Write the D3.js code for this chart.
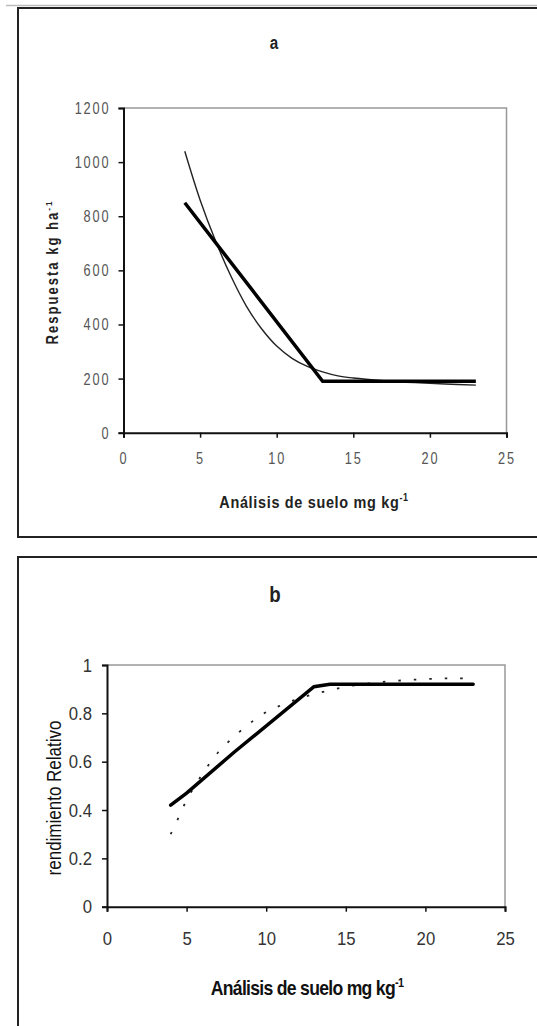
<!DOCTYPE html>
<html><head><meta charset="utf-8">
<script src="https://cdn.jsdelivr.net/npm/d3@7"></script>
<style>
html,body{margin:0;padding:0;background:#fff;}
svg{display:block;}
</style></head>
<body>
<svg id="c" width="537" height="1026"></svg>
<script>
// ---- Data: panel a ----
const aXTicks = [0, 5, 10, 15, 20, 25];
const aYTicks = [0, 200, 400, 600, 800, 1000, 1200];
const aLinearX = [4, 13, 23];
const aLinearY = [850, 190, 190];
const aCurveX = [4, 5, 6, 7, 8, 9, 10, 11, 12, 13, 14, 15, 17, 19, 21, 23];
const aCurveY = [1040, 860, 710, 580, 470, 385, 320, 275, 245, 225, 210, 202, 192, 185, 180, 176];
// ---- Data: panel b ----
const bXTicks = [0, 5, 10, 15, 20, 25];
const bYTicks = [0, 0.2, 0.4, 0.6, 0.8, 1];
const bLinearX = [4, 5, 8, 13, 14, 23];
const bLinearY = [0.42, 0.47, 0.64, 0.91, 0.92, 0.92];
const bCurveX = [4, 4.5, 5, 6, 7, 8, 9, 10, 11, 12, 13, 14, 15, 16, 17, 18, 19, 20, 21, 22, 23];
const bCurveY = [0.30, 0.37, 0.44, 0.55, 0.64, 0.705, 0.76, 0.805, 0.835, 0.86, 0.88, 0.895, 0.91, 0.92, 0.928, 0.934, 0.938, 0.942, 0.944, 0.945, 0.945];

const svg = d3.select("#c");
const SANS = "'Liberation Sans',Arial,sans-serif";

// outer frames
svg.append("line").attr("x1",6).attr("x2",537).attr("y1",5.5).attr("y2",5.5).attr("stroke","#bbb").attr("stroke-width",1.5);
svg.append("rect").attr("x",18).attr("y",8).attr("width",540).attr("height",529).attr("fill","none").attr("stroke","#222").attr("stroke-width",2);
svg.append("rect").attr("x",18).attr("y",557).attr("width",540).attr("height",500).attr("fill","none").attr("stroke","#222").attr("stroke-width",2);

function label(x, y, rot, sx, opts, parts){
  const t = svg.append("text")
    .attr("transform",`translate(${x},${y}) rotate(${rot}) scale(${sx},1)`)
    .attr("text-anchor","middle").attr("font-family",SANS)
    .attr("font-size",opts.fs).attr("font-weight",opts.fw||"normal")
    .attr("letter-spacing",opts.ls||"0px").attr("fill",opts.fill||"#222");
  parts.forEach(p=>{
    const s = t.append("tspan").text(p.t);
    if(p.sup){ s.attr("dy",-opts.fs*0.4).attr("font-size",opts.fs*0.62); }
  });
  return t;
}

function panel(cfg){
  const g = svg.append("g");
  const x = d3.scaleLinear().domain([0,25]).range(cfg.xr);
  const y = d3.scaleLinear().domain(cfg.yd).range(cfg.yr);
  g.append("path").attr("d",`M${x(0)},${y(cfg.yd[1])}H${x(25)}V${y(0)}`)
    .attr("fill","none").attr("stroke","#999").attr("stroke-width",1.5);
  const ya = d3.axisLeft(y).tickValues(cfg.yTicks).tickSize(5).tickPadding(cfg.pad).tickFormat(cfg.yFmt);
  const xa = d3.axisBottom(x).tickValues(cfg.xTicks).tickSize(5).tickPadding(cfg.xpad).tickFormat(d3.format("d"));
  const gy = g.append("g").attr("transform",`translate(${x(0)},0)`).call(ya);
  const gx = g.append("g").attr("transform",`translate(0,${y(0)})`).call(xa);
  [gx,gy].forEach(a=>{
    a.select(".domain").attr("stroke","#111").attr("stroke-width",2);
    a.selectAll(".tick line").attr("stroke","#111").attr("stroke-width",1.5);
    a.selectAll(".tick text").attr("font-family",SANS).attr("font-size",cfg.fs)
      .attr("letter-spacing",cfg.ls).attr("fill",cfg.tc);
  });
  gy.selectAll(".tick text").each(function(){
    const el = d3.select(this); const xx = +el.attr("x");
    el.attr("x", xx/cfg.sx).attr("transform",`scale(${cfg.sx},1)`);
  });
  gx.selectAll(".tick text").attr("transform",`scale(${cfg.sx},1)`);
  return {g,x,y};
}

// ---- Panel a ----
const A = panel({xr:[123.5,506.5], yd:[0,1200], yr:[432.7,108], yTicks:aYTicks, xTicks:aXTicks,
  yFmt:d3.format("d"), fs:17, ls:"2.5px", tc:"#555", pad:8, xpad:14, sx:0.75});
A.g.append("path").datum(aCurveX.map((v,i)=>[v,aCurveY[i]]))
  .attr("d", d3.line().x(d=>A.x(d[0])).y(d=>A.y(d[1])).curve(d3.curveCatmullRom))
  .attr("fill","none").attr("stroke","#222").attr("stroke-width",1.4);
A.g.append("path").datum(aLinearX.map((v,i)=>[v,aLinearY[i]]))
  .attr("d", d3.line().x(d=>A.x(d[0])).y(d=>A.y(d[1])))
  .attr("fill","none").attr("stroke","#000").attr("stroke-width",3.5);
label(274, 49, 0, 0.8, {fs:19, fw:"bold"}, [{t:"a"}]);
label(314, 508, 0, 0.85, {fs:17, fw:"bold", ls:"0.8px"}, [{t:"Análisis de suelo mg kg"},{t:"-1",sup:true}]);
label(58, 272, -90, 0.82, {fs:16, fw:"bold", ls:"2.4px"}, [{t:"Respuesta kg ha"},{t:"-1",sup:true}]);

// ---- Panel b ----
const B = panel({xr:[107,505], yd:[0,1], yr:[906.7,665], yTicks:bYTicks, xTicks:bXTicks,
  yFmt:d=>String(d), fs:19, ls:"0px", tc:"#333", pad:10, xpad:20, sx:0.88});
B.g.append("path").datum(bCurveX.map((v,i)=>[v,bCurveY[i]]))
  .attr("d", d3.line().x(d=>B.x(d[0])).y(d=>B.y(d[1])).curve(d3.curveCatmullRom))
  .attr("fill","none").attr("stroke","#222").attr("stroke-width",1.8).attr("stroke-dasharray","2.5,13");
B.g.append("path").datum(bLinearX.map((v,i)=>[v,bLinearY[i]]))
  .attr("d", d3.line().x(d=>B.x(d[0])).y(d=>B.y(d[1])))
  .attr("fill","none").attr("stroke","#000").attr("stroke-width",3.5).attr("stroke-linecap","round");
label(275, 602, 0, 0.85, {fs:22, fw:"bold"}, [{t:"b"}]);
label(307, 995, 0, 0.88, {fs:20, fw:"bold", ls:"-0.8px", fill:"#111"}, [{t:"Análisis de suelo mg kg"},{t:"-1",sup:true}]);
label(61, 798, -90, 0.85, {fs:20, fill:"#111"}, [{t:"rendimiento Relativo"}]);
</script>
</body></html>
